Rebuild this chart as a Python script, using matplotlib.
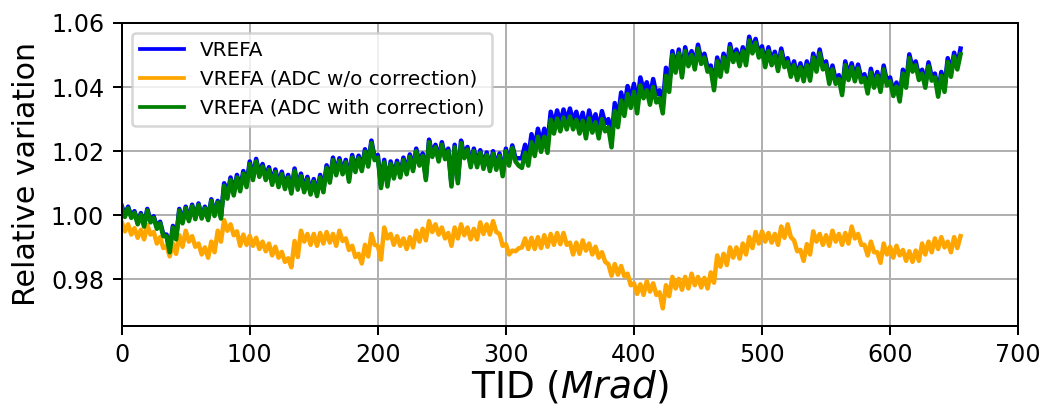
import matplotlib
matplotlib.use("Agg")
import matplotlib.pyplot as plt
import numpy as np

# TID axis, one sample every 2.5 Mrad
tid = np.arange(0, 655.1, 2.5)

vrefa = [
    1.0030, 1.0000, 1.0027, 0.9997, 1.0013, 0.9977, 1.0007, 0.9970, 1.0020, 0.9983,
    0.9997, 0.9963, 0.9980, 0.9940, 0.9940, 0.9890, 0.9967, 0.9930, 1.0020, 0.9980,
    1.0027, 0.9987, 1.0033, 0.9993, 1.0037, 0.9995, 1.0027, 0.9990, 1.0050, 1.0003,
    1.0045, 0.9995, 1.0100, 1.0060, 1.0118, 1.0070, 1.0126, 1.0083, 1.0138, 1.0096,
    1.0168, 1.0118, 1.0176, 1.0128, 1.0160, 1.0118, 1.0150, 1.0103, 1.0143, 1.0096,
    1.0136, 1.0090, 1.0126, 1.0076, 1.0146, 1.0088, 1.0130, 1.0080, 1.0120, 1.0073,
    1.0113, 1.0068, 1.0126, 1.0080, 1.0156, 1.0110, 1.0180, 1.0133, 1.0178, 1.0136,
    1.0173, 1.0113, 1.0188, 1.0143, 1.0186, 1.0146, 1.0206, 1.0160, 1.0233, 1.0180,
    1.0188, 1.0093, 1.0173, 1.0098, 1.0168, 1.0123, 1.0170, 1.0126, 1.0180, 1.0136,
    1.0190, 1.0146, 1.0208, 1.0163, 1.0193, 1.0118, 1.0236, 1.0190, 1.0220, 1.0176,
    1.0228, 1.0183, 1.0208, 1.0098, 1.0220, 1.0108, 1.0233, 1.0186, 1.0213, 1.0158,
    1.0208, 1.0158, 1.0203, 1.0153, 1.0196, 1.0146, 1.0200, 1.0150, 1.0193, 1.0130,
    1.0208, 1.0163, 1.0218, 1.0178, 1.0178, 1.0178, 1.0220, 1.0180, 1.0253, 1.0210,
    1.0270, 1.0223, 1.0270, 1.0220, 1.0323, 1.0280, 1.0327, 1.0287, 1.0330, 1.0293,
    1.0333, 1.0293, 1.0323, 1.0280, 1.0320, 1.0265, 1.0327, 1.0283, 1.0315, 1.0265,
    1.0325, 1.0287, 1.0300, 1.0237, 1.0350, 1.0300, 1.0383, 1.0335, 1.0403, 1.0360,
    1.0410, 1.0343, 1.0430, 1.0390, 1.0415, 1.0370, 1.0425, 1.0377, 1.0390, 1.0343,
    1.0460, 1.0410, 1.0512, 1.0457, 1.0517, 1.0442, 1.0524, 1.0477, 1.0512, 1.0467,
    1.0532, 1.0484, 1.0504, 1.0460, 1.0467, 1.0402, 1.0492, 1.0444, 1.0504, 1.0460,
    1.0534, 1.0490, 1.0517, 1.0477, 1.0524, 1.0480, 1.0557, 1.0517, 1.0550, 1.0504,
    1.0527, 1.0474, 1.0524, 1.0480, 1.0510, 1.0462, 1.0520, 1.0474, 1.0490, 1.0444,
    1.0480, 1.0434, 1.0474, 1.0430, 1.0480, 1.0432, 1.0504, 1.0460, 1.0517, 1.0467,
    1.0480, 1.0422, 1.0467, 1.0422, 1.0437, 1.0387, 1.0480, 1.0434, 1.0474, 1.0430,
    1.0470, 1.0427, 1.0440, 1.0392, 1.0457, 1.0410, 1.0447, 1.0397, 1.0467, 1.0417,
    1.0430, 1.0384, 1.0414, 1.0367, 1.0454, 1.0410, 1.0502, 1.0460, 1.0480, 1.0434,
    1.0454, 1.0410, 1.0477, 1.0432, 1.0442, 1.0382, 1.0447, 1.0397, 1.0490, 1.0444,
    1.0507, 1.0467, 1.0520,
]

vrefa_adc_raw = [
    0.9980, 0.9950, 0.9972, 0.9940, 0.9960, 0.9930, 0.9955, 0.9925, 0.9970, 0.9940,
    0.9948, 0.9912, 0.9932, 0.9898, 0.9905, 0.9872, 0.9912, 0.9880, 0.9938, 0.9902,
    0.9952, 0.9918, 0.9935, 0.9902, 0.9912, 0.9878, 0.9900, 0.9868, 0.9918, 0.9885,
    0.9952, 0.9918, 0.9985, 0.9952, 0.9972, 0.9938, 0.9950, 0.9905, 0.9940, 0.9908,
    0.9936, 0.9905, 0.9930, 0.9895, 0.9918, 0.9888, 0.9912, 0.9875, 0.9902, 0.9868,
    0.9886, 0.9855, 0.9866, 0.9838, 0.9920, 0.9870, 0.9952, 0.9918, 0.9942, 0.9908,
    0.9942, 0.9905, 0.9945, 0.9912, 0.9948, 0.9915, 0.9942, 0.9905, 0.9952, 0.9920,
    0.9928, 0.9892, 0.9905, 0.9870, 0.9880, 0.9850, 0.9908, 0.9872, 0.9942, 0.9908,
    0.9905, 0.9862, 0.9962, 0.9928, 0.9942, 0.9908, 0.9935, 0.9905, 0.9928, 0.9895,
    0.9932, 0.9900, 0.9952, 0.9918, 0.9958, 0.9922, 0.9982, 0.9948, 0.9972, 0.9940,
    0.9962, 0.9928, 0.9945, 0.9905, 0.9962, 0.9928, 0.9972, 0.9938, 0.9962, 0.9925,
    0.9958, 0.9925, 0.9978, 0.9942, 0.9972, 0.9940, 0.9982, 0.9948, 0.9942, 0.9905,
    0.9910, 0.9878, 0.9890, 0.9888, 0.9897, 0.9900, 0.9928, 0.9895, 0.9930, 0.9895,
    0.9932, 0.9898, 0.9938, 0.9902, 0.9942, 0.9908, 0.9945, 0.9910, 0.9945, 0.9908,
    0.9915, 0.9878, 0.9915, 0.9880, 0.9922, 0.9890, 0.9912, 0.9878, 0.9902, 0.9868,
    0.9885, 0.9855, 0.9848, 0.9812, 0.9848, 0.9815, 0.9842, 0.9810, 0.9818, 0.9782,
    0.9788, 0.9755, 0.9785, 0.9752, 0.9795, 0.9762, 0.9788, 0.9752, 0.9760, 0.9710,
    0.9782, 0.9748, 0.9808, 0.9772, 0.9802, 0.9768, 0.9808, 0.9772, 0.9818, 0.9782,
    0.9808, 0.9775, 0.9805, 0.9772, 0.9822, 0.9790, 0.9875, 0.9840, 0.9880, 0.9845,
    0.9900, 0.9868, 0.9900, 0.9865, 0.9912, 0.9878, 0.9932, 0.9898, 0.9948, 0.9912,
    0.9950, 0.9918, 0.9945, 0.9915, 0.9942, 0.9908, 0.9965, 0.9930, 0.9972, 0.9932,
    0.9922, 0.9888, 0.9892, 0.9858, 0.9910, 0.9878, 0.9950, 0.9918, 0.9942, 0.9908,
    0.9938, 0.9905, 0.9952, 0.9918, 0.9942, 0.9908, 0.9945, 0.9912, 0.9965, 0.9928,
    0.9942, 0.9908, 0.9908, 0.9875, 0.9918, 0.9885, 0.9885, 0.9852, 0.9912, 0.9878,
    0.9902, 0.9868, 0.9905, 0.9875, 0.9892, 0.9858, 0.9888, 0.9855, 0.9890, 0.9858,
    0.9912, 0.9878, 0.9918, 0.9885, 0.9928, 0.9895, 0.9932, 0.9900, 0.9918, 0.9885,
    0.9932, 0.9898, 0.9935,
]

vrefa_adc_corr = [
    1.0025, 0.9995, 1.0022, 0.9992, 1.0008, 0.9972, 1.0002, 0.9965, 1.0015, 0.9978,
    0.9992, 0.9958, 0.9975, 0.9935, 0.9935, 0.9885, 0.9962, 0.9925, 1.0015, 0.9975,
    1.0022, 0.9982, 1.0028, 0.9988, 1.0032, 0.9990, 1.0022, 0.9985, 1.0045, 0.9998,
    1.0040, 0.9990, 1.0092, 1.0052, 1.0110, 1.0062, 1.0118, 1.0075, 1.0130, 1.0088,
    1.0160, 1.0110, 1.0168, 1.0120, 1.0152, 1.0110, 1.0142, 1.0095, 1.0135, 1.0088,
    1.0128, 1.0082, 1.0118, 1.0068, 1.0138, 1.0080, 1.0122, 1.0072, 1.0112, 1.0065,
    1.0105, 1.0060, 1.0118, 1.0072, 1.0148, 1.0102, 1.0172, 1.0125, 1.0170, 1.0128,
    1.0165, 1.0105, 1.0180, 1.0135, 1.0178, 1.0138, 1.0198, 1.0152, 1.0225, 1.0172,
    1.0180, 1.0085, 1.0165, 1.0090, 1.0160, 1.0115, 1.0162, 1.0118, 1.0172, 1.0128,
    1.0182, 1.0138, 1.0200, 1.0155, 1.0185, 1.0110, 1.0228, 1.0182, 1.0212, 1.0168,
    1.0220, 1.0175, 1.0200, 1.0090, 1.0212, 1.0100, 1.0225, 1.0178, 1.0205, 1.0150,
    1.0200, 1.0150, 1.0195, 1.0145, 1.0188, 1.0138, 1.0192, 1.0142, 1.0185, 1.0122,
    1.0200, 1.0155, 1.0210, 1.0168, 1.0155, 1.0148, 1.0195, 1.0155, 1.0228, 1.0185,
    1.0245, 1.0198, 1.0245, 1.0195, 1.0298, 1.0255, 1.0302, 1.0262, 1.0305, 1.0268,
    1.0308, 1.0268, 1.0298, 1.0255, 1.0295, 1.0240, 1.0302, 1.0258, 1.0290, 1.0240,
    1.0300, 1.0262, 1.0275, 1.0212, 1.0325, 1.0275, 1.0358, 1.0310, 1.0378, 1.0335,
    1.0385, 1.0318, 1.0405, 1.0365, 1.0390, 1.0345, 1.0400, 1.0352, 1.0365, 1.0318,
    1.0435, 1.0385, 1.0500, 1.0445, 1.0505, 1.0430, 1.0512, 1.0465, 1.0500, 1.0455,
    1.0520, 1.0472, 1.0492, 1.0448, 1.0455, 1.0390, 1.0480, 1.0432, 1.0492, 1.0448,
    1.0522, 1.0478, 1.0505, 1.0465, 1.0512, 1.0468, 1.0545, 1.0505, 1.0538, 1.0492,
    1.0515, 1.0462, 1.0512, 1.0468, 1.0498, 1.0450, 1.0508, 1.0462, 1.0478, 1.0432,
    1.0468, 1.0422, 1.0462, 1.0418, 1.0468, 1.0420, 1.0492, 1.0448, 1.0505, 1.0455,
    1.0468, 1.0410, 1.0455, 1.0410, 1.0425, 1.0375, 1.0468, 1.0422, 1.0462, 1.0418,
    1.0458, 1.0415, 1.0428, 1.0380, 1.0445, 1.0398, 1.0435, 1.0385, 1.0455, 1.0405,
    1.0418, 1.0372, 1.0402, 1.0355, 1.0442, 1.0398, 1.0490, 1.0448, 1.0468, 1.0422,
    1.0442, 1.0398, 1.0465, 1.0420, 1.0430, 1.0370, 1.0435, 1.0385, 1.0478, 1.0432,
    1.0495, 1.0455, 1.0502,
]

# the original looks like a small figure saved at high dpi
fig, ax = plt.subplots(figsize=(1040 / 180, 409 / 180), dpi=180)
fig.subplots_adjust(left=0.117, right=0.979, top=0.944, bottom=0.203)

ax.plot(tid, vrefa, color='blue', lw=1.8, label='VREFA')
ax.plot(tid, vrefa_adc_raw, color='orange', lw=1.8, label='VREFA (ADC w/o correction)')
ax.plot(tid, vrefa_adc_corr, color='green', lw=1.8, label='VREFA (ADC with correction)')

ax.set_xlim(0, 700)
ax.set_ylim(0.9655, 1.060)
ax.set_yticks([0.98, 1.00, 1.02, 1.04, 1.06])
ax.grid(True)
ax.tick_params(labelsize=9.5)

ax.set_xlabel('TID ($Mrad$)', fontsize=15, labelpad=0.5)
ax.set_ylabel('Relative variation', fontsize=12)
leg = ax.legend(loc='upper left', fontsize=8, handlelength=2.2)
for h in leg.get_lines():
    h.set_linewidth(1.5)

fig.savefig('out.png')
